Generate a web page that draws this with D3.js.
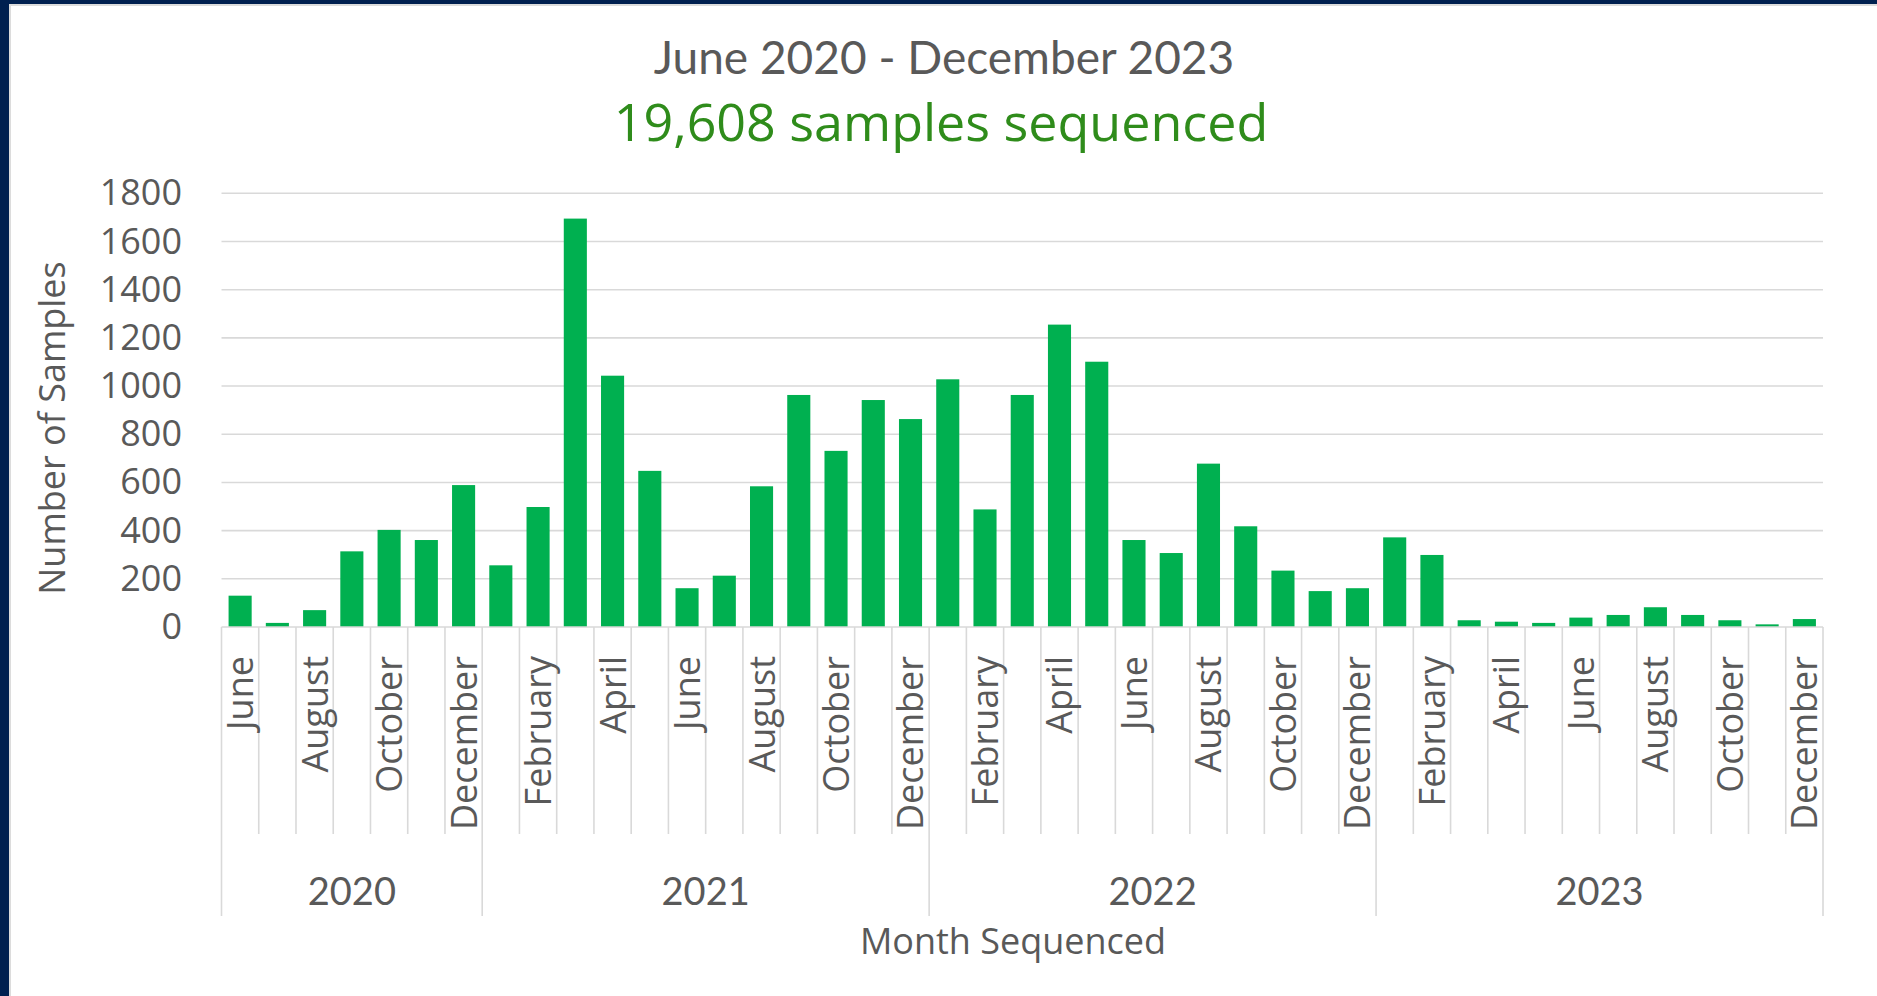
<!DOCTYPE html>
<html>
<head>
<meta charset="utf-8">
<script src="https://cdn.jsdelivr.net/npm/d3@7/dist/d3.min.js"></script>
<style>
  html, body { margin: 0; padding: 0; background: #ffffff; }
  svg { display: block; }
</style>
</head>
<body>
<svg id="chart" width="1877" height="996"></svg>
<script>
// ---- data ----
const monthNames = ["January","February","March","April","May","June","July","August","September","October","November","December"];
const years = ["2020", "2021", "2022", "2023"];
const monthsPerYear = [7, 12, 12, 12]; // June 2020 .. December 2023
const values = [
  130, 17, 70, 314, 403, 361, 589,                          // 2020 Jun-Dec
  256, 498, 1695, 1043, 648, 161, 213, 584, 963, 731, 942, 863,  // 2021
  1028, 488, 963, 1255, 1101, 361, 307, 678, 418, 234, 149, 161, // 2022
  372, 299, 28, 22, 17, 39, 50, 82, 50, 28, 11, 33               // 2023
];
const yTicks = [0, 200, 400, 600, 800, 1000, 1200, 1400, 1600, 1800];
const titleText = "June 2020 - December 2023";
const subtitleText = "19,608 samples sequenced";
const yAxisTitle = "Number of Samples";
const xAxisTitle = "Month Sequenced";

(function () {
// build month records
const records = [];
const startMonth = 5; // June
years.forEach((yr, yi) => {
  const s = yi === 0 ? startMonth : 0;
  for (let m = s; m < 12; m++) {
    records.push({ key: yr + "-" + m, year: yr, month: monthNames[m], value: values[records.length] });
  }
});

// ---- layout ----
const svg = d3.select("#chart");
const W = 1877, H = 996;
const pLeft = 221.5, pRight = 1823, pTop = 193.3, pBottom = 627;
const gray = "#595959", grid = "#d9d9d9";

// frame
svg.append("rect").attr("x", 0).attr("y", 0).attr("width", W).attr("height", H).attr("fill", "#ffffff");
svg.append("rect").attr("x", 0).attr("y", 0).attr("width", W).attr("height", 4).attr("fill", "#002050");
svg.append("rect").attr("x", 0).attr("y", 0).attr("width", 9).attr("height", H).attr("fill", "#002050");
svg.append("rect").attr("x", 9).attr("y", 4).attr("width", W - 9).attr("height", 2).attr("fill", "#dcdcdc");
svg.append("rect").attr("x", 9).attr("y", 4).attr("width", 2).attr("height", H - 4).attr("fill", "#dcdcdc");

const x = d3.scaleBand()
  .domain(records.map(d => d.key))
  .range([pLeft, pRight])
  .paddingInner(0.38)
  .paddingOuter(0.19);

const y = d3.scaleLinear().domain([0, 1800]).range([pBottom, pTop]);

// gridlines
svg.append("g").selectAll("line").data(yTicks.filter(t => t > 0)).join("line")
  .attr("x1", pLeft).attr("x2", pRight)
  .attr("y1", d => y(d)).attr("y2", d => y(d))
  .attr("stroke", grid).attr("stroke-width", 1.6);

// y axis labels
const yAxis = d3.axisLeft(y).tickValues(yTicks).tickSize(0).tickPadding(0).tickFormat(d3.format("d"));
const yg = svg.append("g").attr("transform", `translate(182,0)`).call(yAxis);
yg.select(".domain").remove();
yg.selectAll("text")
  .attr("fill", gray)
  .style("font-family", "'Open Sans', sans-serif")
  .style("font-size", "36px");

// bars
svg.append("g").selectAll("rect").data(records).join("rect")
  .attr("x", d => x(d.key))
  .attr("width", x.bandwidth())
  .attr("y", d => y(d.value))
  .attr("height", d => y(0) - y(d.value))
  .attr("fill", "#00b050");

// x axis baseline
svg.append("line").attr("x1", pLeft).attr("x2", pRight).attr("y1", pBottom).attr("y2", pBottom)
  .attr("stroke", grid).attr("stroke-width", 1.6);

// month boundary ticks
const step = x.step();
const x0 = x.range()[0];
const boundaries = d3.range(records.length + 1);
const yearBounds = [0];
monthsPerYear.reduce((acc, n) => { yearBounds.push(acc + n); return acc + n; }, 0);

svg.append("g").selectAll("line").data(boundaries).join("line")
  .attr("x1", i => x0 + i * step).attr("x2", i => x0 + i * step)
  .attr("y1", pBottom).attr("y2", i => yearBounds.includes(i) ? 916 : 834)
  .attr("stroke", grid).attr("stroke-width", 1.6);

// month labels (every other month)
svg.append("g").selectAll("text").data(records.filter((d, i) => i % 2 === 0)).join("text")
  .attr("transform", d => `translate(${x(d.key) + x.bandwidth() / 2},656) rotate(-90)`)
  .attr("text-anchor", "end")
  .attr("dy", "0.36em")
  .attr("fill", gray)
  .style("font-family", "'Open Sans', sans-serif")
  .style("font-size", "36px")
  .text(d => d.month);

// year labels
svg.append("g").selectAll("text").data(years).join("text")
  .attr("x", (d, i) => x0 + step * (yearBounds[i] + yearBounds[i + 1]) / 2)
  .attr("y", 892)
  .attr("dy", "0.35em")
  .attr("text-anchor", "middle")
  .attr("fill", gray)
  .style("font-family", "Lato, sans-serif")
  .style("font-size", "38px")
  .text(d => d);

// axis titles
svg.append("text")
  .attr("x", 1013).attr("y", 941).attr("dy", "0.35em")
  .attr("text-anchor", "middle").attr("fill", gray)
  .style("font-family", "'Open Sans', sans-serif").style("font-size", "36px")
  .text(xAxisTitle);

svg.append("text")
  .attr("transform", "translate(52,428) rotate(-90)")
  .attr("dy", "0.35em")
  .attr("text-anchor", "middle").attr("fill", gray)
  .style("font-family", "'Open Sans', sans-serif").style("font-size", "36px")
  .text(yAxisTitle);

// titles
svg.append("text")
  .attr("x", 944).attr("y", 74)
  .attr("text-anchor", "middle").attr("fill", gray)
  .style("font-family", "Lato, sans-serif").style("font-size", "46px")
  .text(titleText);

svg.append("text")
  .attr("x", 941).attr("y", 141)
  .attr("text-anchor", "middle").attr("fill", "#2f8c1b")
  .style("font-family", "'Open Sans', sans-serif").style("font-size", "52px")
  .text(subtitleText);
})();
</script>
</body>
</html>
